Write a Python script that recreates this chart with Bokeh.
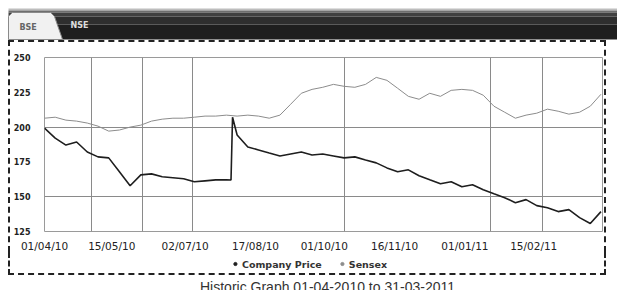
import datetime as dt
from bokeh.plotting import figure
from bokeh.models import Range1d, FixedTicker, Legend, LegendItem, Label, ColumnDataSource
from bokeh.layouts import column
from bokeh.embed import file_html
from bokeh.resources import INLINE

# ---------------- data ----------------
start = dt.datetime(2010, 4, 1)
week_dates = [start + dt.timedelta(days=7 * i) for i in range(53)]
jump_dates = [dt.datetime(2010, 8, 1), dt.datetime(2010, 8, 2)]
company_dates = week_dates[:18] + jump_dates + week_dates[18:]

company_price = [199.3, 192.1, 187.1, 189.3, 182.1, 178.6, 177.9, 167.9, 157.9, 165.7,
                 166.4, 164.3, 163.6, 162.9, 160.7, 161.4, 162.1, 162.1,
                 162.0, 207.1,
                 194.3, 185.7, 183.6, 181.4, 179.3, 180.7, 182.1, 180.0, 180.7, 179.3,
                 177.9, 178.6, 176.4, 174.3, 170.7, 167.9, 169.3, 165.0, 162.1, 159.3,
                 160.7, 157.1, 158.6, 155.0, 152.1, 149.3, 145.7, 147.9, 143.6, 142.1,
                 139.3, 140.7, 135.0, 130.7, 139.3]

sensex = [206.4, 207.1, 205.0, 204.3, 202.9, 200.7, 197.1, 197.9, 200.0, 201.4,
          204.3, 205.7, 206.4, 206.4, 207.1, 207.9, 207.9, 208.6, 207.9, 208.6,
          207.9, 206.4, 208.6, 216.4, 224.3, 227.1, 228.6, 230.7, 229.3, 228.6,
          230.7, 235.7, 233.6, 227.9, 222.1, 220.0, 224.3, 222.1, 226.4, 227.1,
          226.4, 222.9, 215.0, 210.7, 206.4, 208.6, 210.0, 212.9, 211.4, 209.3,
          210.7, 215.0, 223.6]

y_ticks = [125, 150, 175, 200, 225, 250]
y_grid = [150, 200]
x_tick_dates = [dt.datetime(2010, 4, 1), dt.datetime(2010, 5, 15), dt.datetime(2010, 7, 2),
                dt.datetime(2010, 8, 17), dt.datetime(2010, 10, 1), dt.datetime(2010, 11, 16),
                dt.datetime(2011, 1, 1), dt.datetime(2011, 2, 15)]
x_tick_labels = ["01/04/10", "15/05/10", "02/07/10", "17/08/10", "01/10/10",
                 "16/11/10", "01/01/11", "15/02/11"]
x_grid_dates = [dt.datetime(2010, 5, 2), dt.datetime(2010, 6, 4), dt.datetime(2010, 7, 7),
                dt.datetime(2010, 10, 14), dt.datetime(2011, 1, 18), dt.datetime(2011, 2, 21)]

tabs = ["BSE", "NSE"]
series_names = ["Company Price", "Sensex"]
title_text = "Historic Graph 01-04-2010 to 31-03-2011"

FONT = "DejaVu Sans"
DASH = "#222222"


def ms(d):
    return (d - dt.datetime(1970, 1, 1)).total_seconds() * 1000.0


def no_align(f):
    try:
        f.frame_align = False
    except Exception:
        pass


def bare(f):
    f.axis.visible = False
    f.grid.visible = False
    f.outline_line_color = None
    f.background_fill_color = "white"
    f.border_fill_color = "white"


# ---------------- header (tab bar) ----------------
hdr = figure(width=617, height=40, x_range=Range1d(0, 617), y_range=Range1d(40, 0),
             output_backend="svg", toolbar_location=None, min_border=0)
bare(hdr)
no_align(hdr)
bands = [(8, 10, "#bdbdbd"), (10, 12, "#6e6e6e"), (12, 16, "#404040"),
         (16, 24, "#2e2e2e"), (24, 39, "#1e1e1e")]
for top, bot, c in bands:
    hdr.quad(left=8, right=617, top=top, bottom=bot, fill_color=c, line_color=None)
hdr.patch(x=[8, 8, 12, 50, 54, 62], y=[39, 16, 12, 12, 16, 39],
          fill_color="#f1f1f1", line_color="#8a8a8a", line_width=1)
hdr.add_layout(Label(x=19, y=27, text=tabs[0], text_font=FONT, text_font_size="8px",
                     text_font_style="bold", text_color="#666666", text_baseline="middle"))
hdr.add_layout(Label(x=70, y=25, text=tabs[1], text_font=FONT, text_font_size="8px",
                     text_font_style="bold", text_color="#dddddd", text_baseline="middle"))

# ---------------- main chart ----------------
p = figure(width=598, height=212, x_axis_type="datetime",
           x_range=Range1d(ms(dt.datetime(2010, 4, 1)), ms(dt.datetime(2011, 4, 1))),
           y_range=Range1d(125, 250),
           output_backend="svg", toolbar_location=None,
           min_border_left=32, min_border_right=6, min_border_top=15, min_border_bottom=18,
           margin=(0, 0, 0, 8),
           styles={"border-style": "dashed", "border-color": DASH,
                   "border-width": "2px 2px 0px 2px", "box-sizing": "border-box"})
no_align(p)
p.background_fill_color = "white"
p.border_fill_color = "white"
p.outline_line_color = "#9a9a9a"

src_c = ColumnDataSource(dict(x=[ms(d) for d in company_dates], y=company_price))
src_s = ColumnDataSource(dict(x=[ms(d) for d in week_dates], y=sensex))
p.line("x", "y", source=src_s, line_color="#8c8c8c", line_width=1)
p.line("x", "y", source=src_c, line_color="#1e1e1e", line_width=1.6)

p.xaxis.ticker = FixedTicker(ticks=[ms(d) for d in x_tick_dates])
p.xaxis.major_label_overrides = {ms(d): l for d, l in zip(x_tick_dates, x_tick_labels)}
p.yaxis.ticker = FixedTicker(ticks=y_ticks)
p.xgrid.ticker = FixedTicker(ticks=[ms(d) for d in x_grid_dates])
p.ygrid.ticker = FixedTicker(ticks=y_grid)
p.grid.grid_line_color = "#8a8a8a"
p.grid.grid_line_width = 1

for ax in (p.xaxis, p.yaxis):
    ax.axis_line_color = None
    ax.major_tick_line_color = None
    ax.minor_tick_line_color = None
    ax.major_label_text_font = FONT
    ax.major_label_text_color = "#222222"
p.xaxis.major_label_text_font_size = "10.5px"
p.yaxis.major_label_text_font_size = "8px"
p.yaxis.major_label_text_font_style = "bold"
p.xaxis.major_label_standoff = 2
p.yaxis.major_label_standoff = 8

# ---------------- legend strip (inside the dashed box) ----------------
lg = figure(width=598, height=23, x_range=Range1d(0, 1), y_range=Range1d(0, 1),
            output_backend="svg", toolbar_location=None, min_border=0,
            margin=(0, 0, 0, 8),
            styles={"border-style": "dashed", "border-color": DASH,
                    "border-width": "0px 2px 2px 2px", "box-sizing": "border-box"})
bare(lg)
no_align(lg)
dot_src = ColumnDataSource(dict(x=[0.5], y=[float("nan")]))
d_c = lg.scatter("x", "y", source=dot_src, marker="circle", size=7,
                 fill_color="#1e1e1e", line_color="#1e1e1e")
d_s = lg.scatter("x", "y", source=dot_src, marker="circle", size=7,
                 fill_color="#8c8c8c", line_color="#8c8c8c")
legend = Legend(items=[LegendItem(label=series_names[0], renderers=[d_c]),
                       LegendItem(label=series_names[1], renderers=[d_s])],
                orientation="horizontal", location="center",
                border_line_color=None, background_fill_alpha=0,
                label_text_font=FONT, label_text_font_size="9.5px",
                label_text_font_style="bold", label_text_color="#333333",
                glyph_width=8, glyph_height=8, spacing=16, padding=1, margin=0,
                label_standoff=3)
lg.add_layout(legend, "center")

# ---------------- title below box ----------------
t = figure(width=617, height=15, x_range=Range1d(0, 617), y_range=Range1d(0, 15),
           output_backend="svg", toolbar_location=None, min_border=0)
bare(t)
no_align(t)
t.add_layout(Label(x=327, y=4, text=title_text, text_align="center",
                   text_baseline="alphabetic", text_font="Liberation Sans",
                   text_font_size="14px", text_color="#333333"))

layout = column(hdr, p, lg, t, spacing=0)
open("out.html", "w").write(file_html(layout, INLINE))
